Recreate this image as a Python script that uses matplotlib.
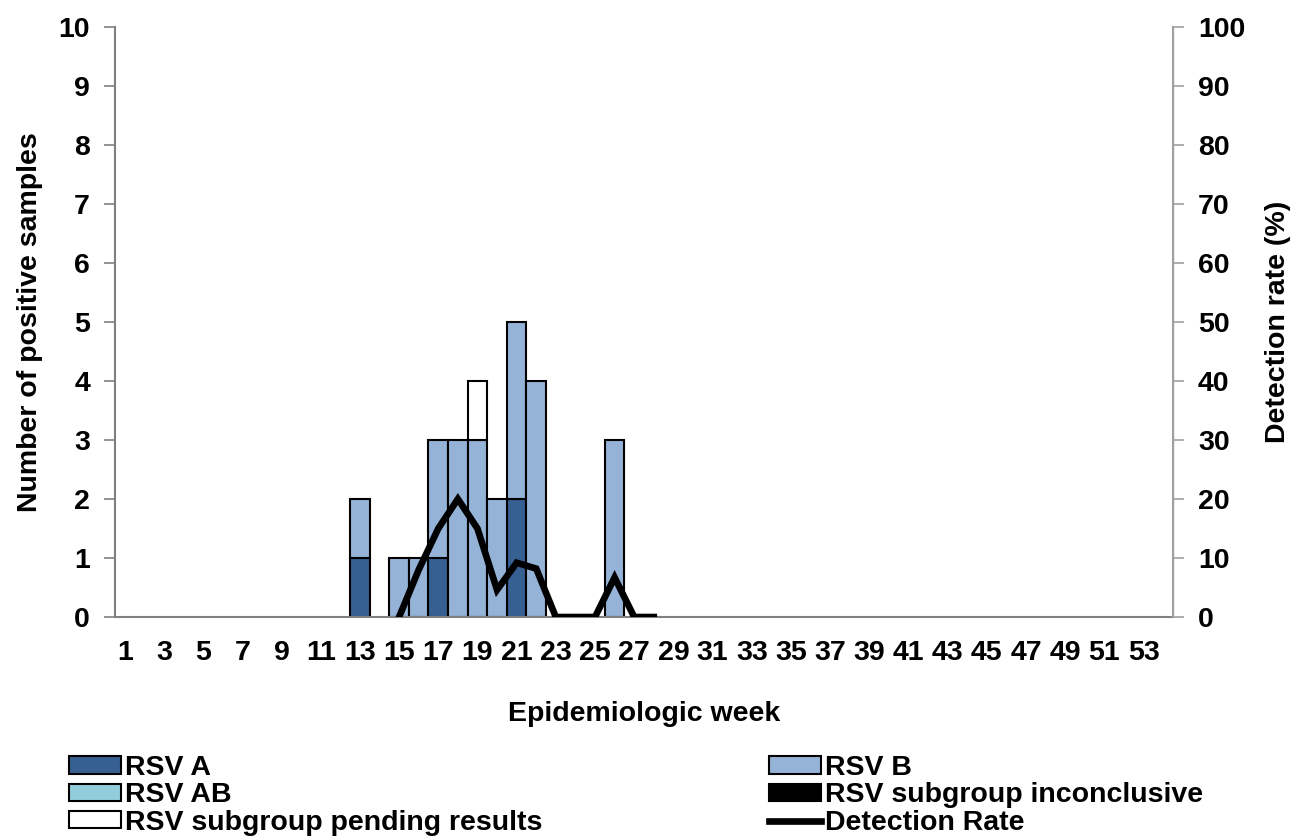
import numpy as np
import matplotlib
matplotlib.use('Agg')
import matplotlib.pyplot as plt
from matplotlib.patches import Patch
from matplotlib.lines import Line2D

plt.rcParams['font.family'] = ['Liberation Sans', 'DejaVu Sans']
plt.rcParams['font.weight'] = 'bold'

# epidemiologic weeks 1..54 (only odd weeks labelled)
weeks = np.arange(1, 55)

# counts per week
rsv_a = {13: 1, 17: 1, 21: 2}
rsv_b = {13: 1, 15: 1, 16: 1, 17: 2, 18: 3, 19: 3, 20: 2, 21: 3, 22: 4, 26: 3}
rsv_ab = {}
rsv_inconclusive = {}
rsv_pending = {19: 1}

# detection rate (%) for weeks 15..28
rate_weeks = [15, 16, 17, 18, 19, 20, 21, 22, 23, 24, 25, 26, 27, 28]
rate_values = [0, 8, 15, 20, 15, 4.6, 9.2, 8.2, 0, 0, 0, 6.7, 0, 0]

series = [
    ('RSV A', rsv_a, '#376092'),
    ('RSV B', rsv_b, '#95B3D7'),
    ('RSV AB', rsv_ab, '#92CDDC'),
    ('RSV subgroup inconclusive', rsv_inconclusive, '#000000'),
    ('RSV subgroup pending results', rsv_pending, '#FFFFFF'),
]

FS = 20.5

fig = plt.figure(figsize=(12.92, 8.38), dpi=100)
ax = fig.add_axes([0.089, 0.2637, 0.8189, 0.7041])
ax2 = ax.twinx()

bottom = np.zeros(len(weeks))
for name, data, color in series:
    vals = np.array([data.get(w, 0) for w in weeks], dtype=float)
    mask = vals > 0
    ax.bar(weeks[mask], vals[mask], width=1.0, bottom=bottom[mask],
           color=color, edgecolor='black', linewidth=1.5, zorder=2)
    bottom += vals

ax2.plot(rate_weeks, rate_values, color='black', linewidth=4.8,
         solid_joinstyle='miter', zorder=3)

ax.set_xlim(0.5, 54.5)
ax.set_ylim(0, 10)
ax2.set_ylim(0, 100)
ax.set_yticks(range(0, 11))
ax2.set_yticks(range(0, 101, 10))
ax.set_xticks(weeks[::2])
ax.set_xticklabels([str(w) for w in weeks[::2]])

for a in (ax, ax2):
    a.spines['top'].set_visible(False)
ax.spines['left'].set_color('#808080')
ax.spines['bottom'].set_color('#808080')
ax2.spines['right'].set_color('#A0A0A0')
ax2.spines['left'].set_visible(False)
ax2.spines['bottom'].set_visible(False)
for s in ('left', 'bottom'):
    ax.spines[s].set_linewidth(1.5)
ax2.spines['right'].set_linewidth(1.5)

ax.tick_params(axis='x', length=0, pad=16.5, labelsize=FS)
ax.tick_params(axis='y', length=8, width=1.2, color='#808080', pad=10, labelsize=FS)
ax2.tick_params(axis='y', length=8, width=1.2, color='#A0A0A0', pad=10, labelsize=FS)
for lab in ax.get_xticklabels() + ax.get_yticklabels() + ax2.get_yticklabels():
    lab.set_fontweight('bold')

ax.set_xlabel('Epidemiologic week', fontsize=FS, fontweight='bold', labelpad=25)
ax.set_ylabel('Number of positive samples', fontsize=FS, fontweight='bold', labelpad=11)
ax2.set_ylabel('Detection rate (%)', fontsize=FS, fontweight='bold', labelpad=14)
ax.patch.set_visible(False)

handles = [
    Patch(facecolor='#376092', edgecolor='black', linewidth=1.5, label='RSV A'),
    Patch(facecolor='#92CDDC', edgecolor='black', linewidth=1.5, label='RSV AB'),
    Patch(facecolor='#FFFFFF', edgecolor='black', linewidth=1.5, label='RSV subgroup pending results'),
    Patch(facecolor='#95B3D7', edgecolor='black', linewidth=1.5, label='RSV B'),
    Patch(facecolor='#000000', edgecolor='black', linewidth=1.5, label='RSV subgroup inconclusive'),
    Line2D([], [], color='black', linewidth=4.8, label='Detection Rate'),
]
fig.legend(handles=handles, ncol=2, loc='upper left', bbox_to_anchor=(0.0535, 0.099),
           frameon=False, prop={'weight': 'bold', 'size': FS},
           handlelength=1.83, handleheight=0.55, handletextpad=0.15,
           columnspacing=7.93, labelspacing=0.05, borderpad=0, borderaxespad=0)

fig.savefig('out.png', dpi=100)
